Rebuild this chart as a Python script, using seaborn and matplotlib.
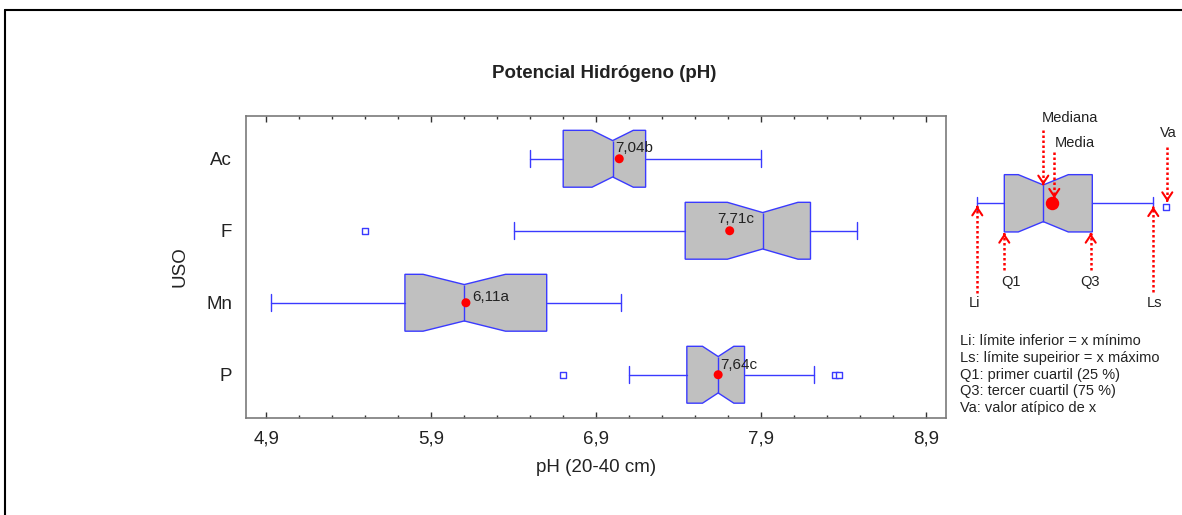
import numpy as np
import matplotlib
matplotlib.use("Agg")
import matplotlib.pyplot as plt
import seaborn as sns
from matplotlib.lines import Line2D
from matplotlib.path import Path
from matplotlib.ticker import FixedLocator, MultipleLocator, FuncFormatter

# ---------------- data ----------------
categories = ["Ac", "F", "Mn", "P"]
whislo = [6.50, 6.40, 4.93, 7.10]
q1 = [6.70, 7.44, 5.74, 7.45]
median = [7.00, 7.91, 6.10, 7.64]
q3 = [7.20, 8.20, 6.60, 7.80]
whishi = [7.90, 8.48, 7.05, 8.22]
notch_half = [0.125, 0.214, 0.25, 0.095]
means = [7.04, 7.71, 6.11, 7.64]
mean_labels = ["7,04b", "7,71c", "6,11a", "7,64c"]
outlier_cat = ["F", "P", "P", "P"]
outlier_val = [5.50, 6.70, 8.35, 8.375]
xticks = [4.9, 5.9, 6.9, 7.9, 8.9]

legend_lines = [
    "Li: límite inferior = x mínimo",
    "Ls: límite supeirior = x máximo",
    "Q1: primer cuartil (25 %)",
    "Q3: tercer cuartil (75 %)",
    "Va: valor atípico de x",
]

# ---------------- style ----------------
sns.set_style("white")
plt.rcParams["font.family"] = ["Liberation Sans", "DejaVu Sans"]

W, H = 1182, 515
fig = plt.figure(figsize=(W / 100, H / 100), dpi=100)
fig.patch.set_facecolor("white")

BLUE = "#3a3aff"
GRAY = "#c0c0c0"
TXT = "#222222"
BW = 0.79          # box width (category units)
NOTCH = 0.32       # half width at the median relative to box width

ax = fig.add_axes([246 / W, 1 - 417.5 / H, 700 / W, 301.5 / H])

pos = np.arange(len(categories))
stats = []
for i, c in enumerate(categories):
    stats.append(dict(label=c, whislo=whislo[i], q1=q1[i], med=median[i],
                      q3=q3[i], whishi=whishi[i],
                      cilo=median[i] - notch_half[i],
                      cihi=median[i] + notch_half[i], fliers=[]))


def draw_boxes(axis, st, positions, width, capw, lw=1.0):
    art = axis.bxp(st, positions=positions, widths=width, orientation="horizontal",
                   shownotches=True, patch_artist=True, showfliers=False,
                   manage_ticks=False, capwidths=capw,
                   boxprops=dict(facecolor=GRAY, edgecolor=BLUE, linewidth=lw),
                   whiskerprops=dict(color=BLUE, linewidth=lw),
                   capprops=dict(color=BLUE, linewidth=lw),
                   medianprops=dict(color=BLUE, linewidth=lw))
    for b, s, p in zip(art["boxes"], st, positions):
        v = b.get_path().vertices.copy()
        m = np.isclose(v[:, 0], s["med"])
        v[m, 1] = p + (v[m, 1] - p) * (NOTCH / 0.25)
        b.set_path(Path(v, b.get_path().codes))
    for ml, p in zip(art["medians"], positions):
        ml.set_ydata([p - width * NOTCH, p + width * NOTCH])
    return art


draw_boxes(ax, stats, pos, BW, 0.23)

# outliers
out_y = [categories.index(c) for c in outlier_cat]
sns.scatterplot(x=outlier_val, y=out_y, marker="s", s=14, color="white",
                edgecolor=BLUE, linewidth=1.0, zorder=4, ax=ax, legend=False)
# means
sns.scatterplot(x=means, y=pos, s=42, color="red", edgecolor="none",
                zorder=5, ax=ax, legend=False)

label_offsets = [(-4, 11), (-12, 12), (6, 6), (2, 10)]
for m, p, lab, (dx, dy) in zip(means, pos, mean_labels, label_offsets):
    ax.annotate(lab, xy=(m, p), xytext=(dx * 0.72, dy * 0.72),
                textcoords="offset points", ha="left", va="center",
                fontsize=11, color=TXT, zorder=6)

ax.set_xlim(4.776, 9.022)
ax.set_ylim(len(categories) - 1 + 0.594, -0.594)
ax.set_yticks(pos)
ax.set_yticklabels(categories, fontsize=13.5, color=TXT)
ax.xaxis.set_major_locator(FixedLocator(xticks))
ax.xaxis.set_minor_locator(MultipleLocator(0.2, offset=0.1))
ax.xaxis.set_major_formatter(FuncFormatter(lambda v, _: f"{v:.1f}".replace(".", ",")))
ax.tick_params(axis="x", which="major", direction="in", length=4, width=1,
               top=True, bottom=True, labelsize=13.5, labelcolor=TXT, pad=9,
               color="#333333")
ax.tick_params(axis="x", which="minor", direction="in", length=2.3, width=1,
               top=True, bottom=True, color="#333333")
ax.tick_params(axis="y", length=0, pad=10)
for sp in ax.spines.values():
    sp.set_color("#7a7a7a")
    sp.set_linewidth(1.2)
    sp.set_visible(True)

ax.set_xlabel("pH (20-40 cm)", fontsize=13.5, color=TXT)
ax.xaxis.label.set_va("center")
ax.xaxis.set_label_coords(0.5, -(467 - 417.5) / 301.5)
ax.set_ylabel("USO", fontsize=13.5, color=TXT)
ax.yaxis.label.set_va("center")
ax.yaxis.set_label_coords((180 - 246) / 700, 0.5)

fig.text(604.5 / W, 1 - 73 / H, "Potencial Hidrógeno (pH)", ha="center",
         va="center", fontsize=13.5, fontweight="bold", color=TXT)

# ---------------- schematic legend ----------------
leg = fig.add_axes([950 / W, 1 - 330 / H, 230 / W, 230 / H])
leg.set_xlim(0, 230)
leg.set_ylim(230, 0)
leg.axis("off")
scheme = dict(label="", whislo=27.3, q1=54.3, med=93.3, q3=142.3, whishi=203.3,
              cilo=68.3, cihi=118.3, fliers=[])
draw_boxes(leg, [scheme], [103.3], 57.3, 13.3)
leg.scatter([101.7], [103.3], s=75, color="red", zorder=5)
leg.scatter([216], [106.7], s=14, marker="s", color="white", edgecolor=BLUE,
            linewidth=1.0, zorder=5)


def arrow(x, y0, y1):
    leg.plot([x, x], [y0, y1], color="red", lw=1.8, linestyle=(0, (1, 1)),
             solid_capstyle="butt", zorder=6)
    d = 1 if y1 > y0 else -1
    leg.annotate("", xy=(x, y1), xytext=(x, y1 - d * 1.0),
                 arrowprops=dict(arrowstyle="->,head_length=0.45,head_width=0.3",
                                 color="red", lw=1.5, shrinkA=0, shrinkB=0,
                                 mutation_scale=12), zorder=7)


arrow(93.3, 30, 85)
arrow(104.3, 51.7, 98.3)
arrow(217.3, 46.7, 101.7)
arrow(27.3, 193.3, 106)
arrow(54.3, 170, 133.3)
arrow(140.7, 170, 133.3)
arrow(203.3, 191.7, 106.7)

lk = dict(fontsize=10.5, color=TXT, ha="center", va="center")
leg.text(120, 18.3, "Mediana", **lk)
leg.text(125, 43.3, "Media", **lk)
leg.text(218.3, 33.3, "Va", **lk)
leg.text(25, 203.3, "Li", **lk)
leg.text(61, 181.7, "Q1", **lk)
leg.text(140, 181.7, "Q3", **lk)
leg.text(204, 203.3, "Ls", **lk)

line_y = [341, 357.75, 374.5, 391.25, 408]
for t, yy in zip(legend_lines, line_y):
    fig.text(960 / W, 1 - yy / H, t, fontsize=10.5, color=TXT, ha="left", va="center")

# outer border of the original frame
fig.add_artist(Line2D([5 / W, 1], [1 - 10 / H, 1 - 10 / H], transform=fig.transFigure,
                      color="black", lw=1.5))
fig.add_artist(Line2D([5 / W, 5 / W], [0, 1 - 10 / H], transform=fig.transFigure,
                      color="black", lw=1.5))

fig.savefig("out.png", dpi=100)
